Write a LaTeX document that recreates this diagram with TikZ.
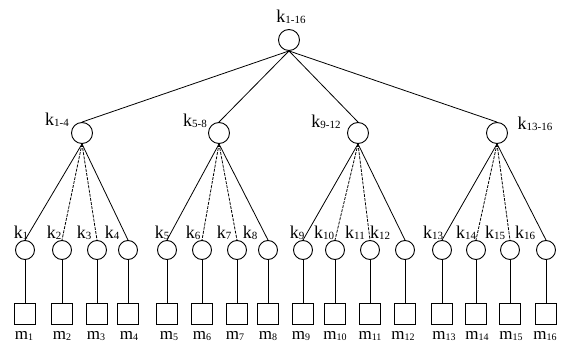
\documentclass[tikz,border=0pt]{standalone}
\usepackage{fontspec}
\setmainfont{Liberation Serif}
\newcommand{\kl}[1]{k\raisebox{-1.5pt}{\fontsize{11}{11}\selectfont #1}}
\newcommand{\ml}[1]{m\raisebox{-0.5pt}{\fontsize{10}{10}\selectfont #1}}
\begin{document}
\begin{tikzpicture}[x=1pt,y=-1pt,
  knode/.style={circle,draw,line width=0.9pt,minimum size=19pt,inner sep=0pt},
  bignode/.style={circle,draw,line width=0.9pt,minimum size=21pt,inner sep=0pt},
  mnode/.style={rectangle,draw,line width=0.9pt,minimum size=21pt,inner sep=0pt},
  lab/.style={inner sep=0pt,font=\fontsize{18}{18}\selectfont},
  mlab/.style={inner sep=0pt,font=\fontsize{17}{17}\selectfont},
  edge/.style={line width=0.8pt},
  dedge/.style={line width=0.8pt,dash pattern=on 3pt off 1.2pt}]
\useasboundingbox (0,0) rectangle (568,347);
% root
\node[bignode] (r) at (289,40) {};
\node[lab] (lr) at (291,17) {\kl{1-16}};
% level 2
\node[bignode] (a1) at (82,133) {};
\node[bignode] (a2) at (219,133) {};
\node[bignode] (a3) at (358,133) {};
\node[bignode] (a4) at (497,133) {};
\node[lab] (la1) at (57,120) {\kl{1-4}};
\node[lab] (la2) at (195,121) {\kl{5-8}};
\node[lab] (la3) at (326,122) {\kl{9-12}};
\node[lab] (la4) at (535,124) {\kl{13-16}};
\foreach \i in {1,...,4} \draw[edge] (r.south) -- (a\i.north);
% leaves
\foreach \i/\x/\kx/\mx in {1/25/21/24,2/62/54/62,3/97/84/96,4/128/112/129,
  5/167/162/169,6/202/193/202,7/237/224/235,8/268/250/268,
  9/303/297/301,10/335/324/335,11/370/355/370,12/405/380/403,
  13/442/433/444,14/476/466/477,15/510/495/511,16/546/525/545}{
  \node[knode] (c\i) at (\x,250) {};
  \node[mnode] (s\i) at (\x,314) {};
  \node[lab] (lk\i) at (\kx,233) {\kl{\i}};
  \node[mlab] (lm\i) at (\mx,336) {\ml{\i}};
  \draw[edge] (c\i.south) -- (s\i.north);
}
\foreach \p in {1,...,4}{
  \pgfmathtruncatemacro{\ka}{4*\p-3}
  \pgfmathtruncatemacro{\kb}{4*\p-2}
  \pgfmathtruncatemacro{\kc}{4*\p-1}
  \pgfmathtruncatemacro{\kd}{4*\p}
  \draw[edge] (a\p.south) -- (c\ka.north);
  \draw[dedge] (a\p.south) -- (c\kb.north);
  \draw[dedge] (a\p.south) -- (c\kc.north);
  \draw[edge] (a\p.south) -- (c\kd.north);
}
\end{tikzpicture}
\end{document}
